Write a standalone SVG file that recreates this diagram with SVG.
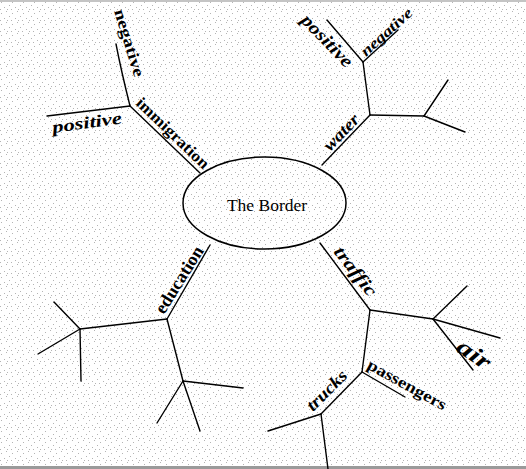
<svg xmlns="http://www.w3.org/2000/svg" width="526" height="469" viewBox="0 0 526 469">
<style>
.ln{fill:none;stroke:#000;stroke-width:1.4;stroke-linecap:round;stroke-linejoin:round}
.lb{font-family:"Liberation Serif","Times New Roman",serif;font-weight:bold;fill:#000}
.it{font-style:italic}
</style>
<defs>
<pattern id="noise" width="11" height="11" patternUnits="userSpaceOnUse">
<rect width="11" height="11" fill="#fff"/>
<rect x="1" y="2" width="1" height="1" fill="#b4b4b4"/>
<rect x="6" y="0" width="1" height="1" fill="#b4b4b4"/>
<rect x="9" y="5" width="1" height="1" fill="#b4b4b4"/>
<rect x="4" y="7" width="1" height="1" fill="#b4b4b4"/>
<rect x="0" y="9" width="1" height="1" fill="#b4b4b4"/>
<rect x="7" y="9" width="1" height="1" fill="#b4b4b4"/>
</pattern>
</defs>
<rect width="526" height="469" fill="url(#noise)"/>
<rect x="0" y="0" width="526" height="2" fill="#c4c4c4"/>
<rect x="0" y="466" width="526" height="3" fill="#9a9a9a"/>

<g id="connectors" class="ln">
<path d="M200,173 L130,106"/>
<path d="M130,106 Q121,70 116,44"/>
<path d="M130,106 L47,116"/>
<path d="M322,165 L370,115"/>
<path d="M370,115 L363,62"/>
<path d="M363,62 L327,20"/>
<path d="M363,62 L398,30"/>
<path d="M370,115 L424,116"/>
<path d="M424,116 L448,80"/>
<path d="M424,116 L465,132"/>
<path d="M320,243 L370,310"/>
<path d="M370,310 L433,319"/>
<path d="M433,319 L467,286"/>
<path d="M433,319 L500,338"/>
<path d="M433,319 L473,370"/>
<path d="M370,310 L362,372"/>
<path d="M362,372 L405,397"/>
<path d="M362,372 L321,414"/>
<path d="M321,414 L268,431"/>
<path d="M321,414 L328,469"/>
<path d="M210,245 L167,319"/>
<path d="M167,319 L80,329"/>
<path d="M80,329 L54,302"/>
<path d="M80,329 L38,354"/>
<path d="M80,329 L81,381"/>
<path d="M167,319 L183,381"/>
<path d="M183,381 L243,388"/>
<path d="M183,381 L157,423"/>
<path d="M183,381 L200,431"/>
</g>

<g id="node-border">
<ellipse cx="264.5" cy="203" rx="81.5" ry="46" fill="none" stroke="#000" stroke-width="1.5"/>
<text x="267" y="211" text-anchor="middle" font-family="'Liberation Serif','Times New Roman',serif" font-size="17.5" fill="#000">The Border</text>
</g>

<g id="node-immigration">
<text class="lb" font-size="16" transform="translate(135,104) rotate(44)" textLength="95" lengthAdjust="spacingAndGlyphs">immigration</text>
</g>
<g id="node-imm-negative">
<text class="lb" font-size="16" transform="translate(114,11) rotate(73)" textLength="70" lengthAdjust="spacingAndGlyphs">negative</text>
</g>
<g id="node-imm-positive">
<text class="lb it" font-size="17" transform="translate(53,133) rotate(-8)" textLength="70" lengthAdjust="spacingAndGlyphs">positive</text>
</g>

<g id="node-water">
<text class="lb it" font-size="17" transform="translate(330,152) rotate(-46)" textLength="44" lengthAdjust="spacingAndGlyphs">water</text>
</g>
<g id="node-water-positive">
<text class="lb it" font-size="18" transform="translate(300,21) rotate(46)" textLength="66" lengthAdjust="spacingAndGlyphs">positive</text>
</g>
<g id="node-water-negative">
<text class="lb it" font-size="15" transform="translate(366,57) rotate(-42)" textLength="64" lengthAdjust="spacingAndGlyphs">negative</text>
</g>

<g id="node-traffic">
<text class="lb it" font-size="18" transform="translate(333,252) rotate(52)" textLength="58" lengthAdjust="spacingAndGlyphs">traffic</text>
</g>
<g id="node-air">
<text class="lb it" font-size="23" transform="translate(455,350) rotate(35)" textLength="36" lengthAdjust="spacingAndGlyphs">air</text>
</g>
<g id="node-passengers">
<text class="lb" font-size="16" transform="translate(366,368) rotate(29)" textLength="88" lengthAdjust="spacingAndGlyphs">passengers</text>
</g>
<g id="node-trucks">
<text class="lb it" font-size="17" transform="translate(313,412) rotate(-45)" textLength="50" lengthAdjust="spacingAndGlyphs">trucks</text>
</g>

<g id="node-education">
<text class="lb" font-size="18" transform="translate(164,315) rotate(-58)" textLength="76" lengthAdjust="spacingAndGlyphs">education</text>
</g>
</svg>
